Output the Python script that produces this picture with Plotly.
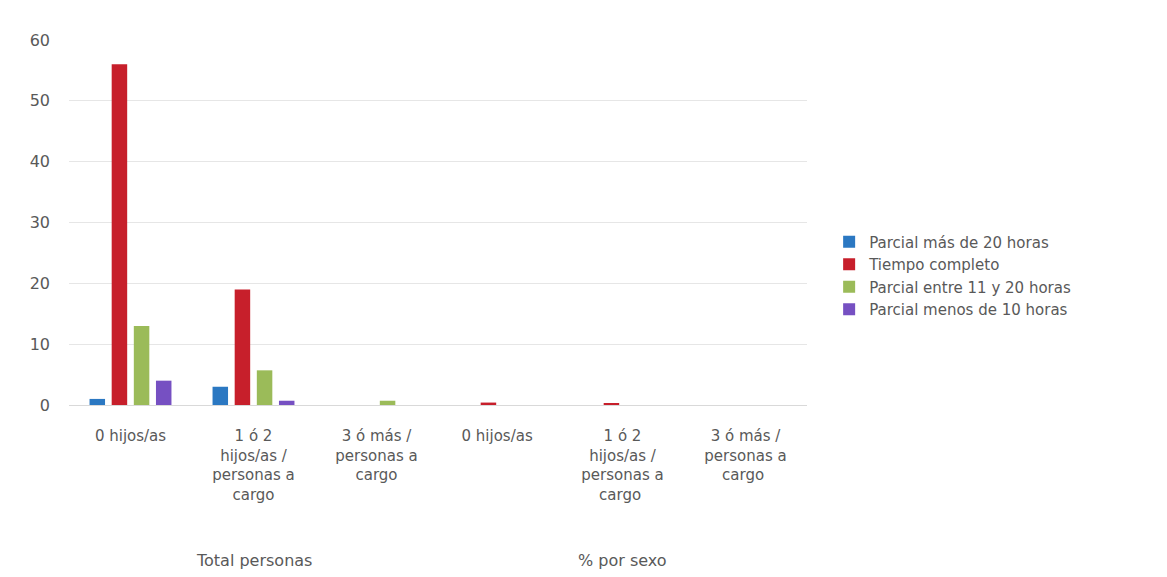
import plotly.graph_objects as go

# Category labels (trailing spaces keep the repeated labels of the second group distinct)
situaciones = [
    "0 hijos/as",
    "1 ó 2<br>hijos/as /<br>personas a<br>cargo",
    "3 ó más /<br>personas a<br>cargo",
    "0 hijos/as ",
    "1 ó 2<br>hijos/as /<br>personas a<br>cargo ",
    "3 ó más /<br>personas a<br>cargo ",
]
grupos = ["Total personas", "% por sexo"]

# Series values per jornada type
parcial_mas_20 = [1, 3, 0, 0, 0, 0]
tiempo_completo = [56, 19, 0, 0.4, 0.2, 0]
parcial_11_20 = [13, 5.7, 0.7, 0, 0, 0]
parcial_menos_10 = [4, 0.7, 0, 0, 0, 0]

series = [
    ("Parcial más de 20 horas", parcial_mas_20, "#2b78c2"),
    ("Tiempo completo", tiempo_completo, "#c71f2b"),
    ("Parcial entre 11 y 20 horas", parcial_11_20, "#9bbb59"),
    ("Parcial menos de 10 horas", parcial_menos_10, "#7650c2"),
]

FONT = "DejaVu Sans, Liberation Sans, Arial, sans-serif"
GREY = "#595959"

fig = go.Figure()
for nombre, valores, color in series:
    fig.add_trace(go.Bar(
        x=situaciones,
        y=valores,
        name=nombre,
        marker=dict(color=color, line=dict(width=0)),
    ))

# Group titles centred under the middle category of each block
for grupo, centro in zip(grupos, [situaciones[1], situaciones[4]]):
    fig.add_annotation(
        x=centro, xref="x",
        y=-0.425, yref="paper",
        text=grupo, showarrow=False,
        xanchor="center", yanchor="middle",
        font=dict(family=FONT, size=16, color=GREY),
    )

fig.update_layout(
    width=1167,
    height=577,
    barmode="group",
    bargap=0.28,
    bargroupgap=0.3,
    plot_bgcolor="white",
    paper_bgcolor="white",
    font=dict(family=FONT, size=15, color=GREY),
    margin=dict(l=69, r=360, t=40, b=172),
    legend=dict(
        x=1.03, y=0.355, xanchor="left", yanchor="middle",
        font=dict(family=FONT, size=15, color=GREY),
        itemwidth=30, tracegroupgap=0,
    ),
    xaxis=dict(
        type="category",
        showline=True,
        linecolor="#d9d9d9",
        linewidth=1,
        ticks="",
        ticklabelstandoff=17,
        tickfont=dict(family=FONT, size=15, color=GREY),
    ),
    yaxis=dict(
        range=[0, 60],
        dtick=10,
        showgrid=True,
        gridcolor="#e6e6e6",
        zeroline=False,
        ticks="",
        ticklabelstandoff=18,
        tickfont=dict(family=FONT, size=16, color=GREY),
    ),
)

fig.write_html("out.html")
